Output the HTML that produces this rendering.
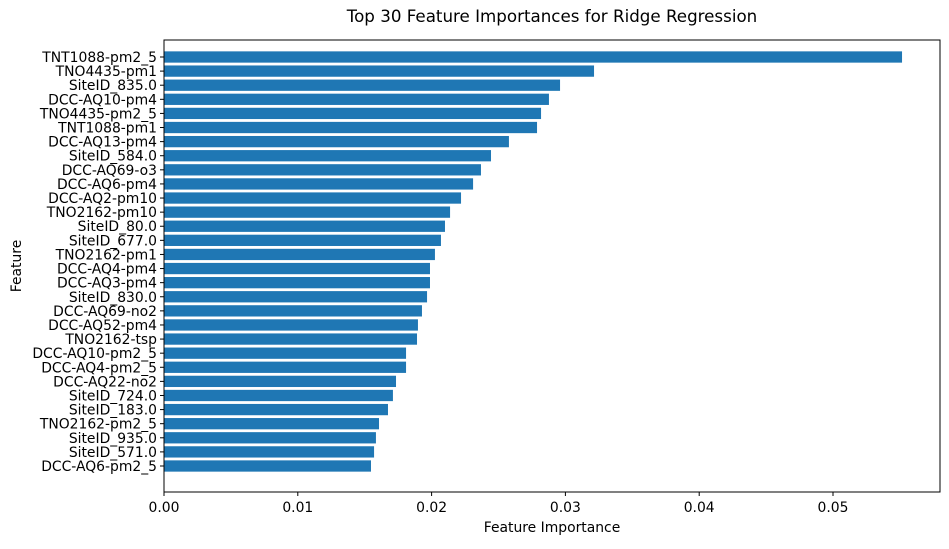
<!DOCTYPE html>
<html><head><meta charset="utf-8"><style>
body{margin:0;background:#fff;font-family:"DejaVu Sans","Liberation Sans",sans-serif;}
svg text{font-family:"DejaVu Sans","Liberation Sans",sans-serif;fill:#000;}
</style></head><body>
<svg id="chart" width="949" height="545" xmlns="http://www.w3.org/2000/svg">
<text x="552" y="22" font-size="16.7" text-anchor="middle">Top 30 Feature Importances for Ridge Regression</text>
<g id="bars"></g><g id="yticks"></g><g id="xticks"></g>
<rect x="164" y="40" width="776" height="452" fill="none" stroke="#000" stroke-width="1"/>
<text x="552" y="532" font-size="13.9" text-anchor="middle">Feature Importance</text>
<text x="21" y="266" font-size="13.9" text-anchor="middle" transform="rotate(-90 21 266)">Feature</text>
</svg>
<script>
const features=["TNT1088-pm2_5","TNO4435-pm1","SiteID_835.0","DCC-AQ10-pm4","TNO4435-pm2_5","TNT1088-pm1","DCC-AQ13-pm4","SiteID_584.0","DCC-AQ69-o3","DCC-AQ6-pm4","DCC-AQ2-pm10","TNO2162-pm10","SiteID_80.0","SiteID_677.0","TNO2162-pm1","DCC-AQ4-pm4","DCC-AQ3-pm4","SiteID_830.0","DCC-AQ69-no2","DCC-AQ52-pm4","TNO2162-tsp","DCC-AQ10-pm2_5","DCC-AQ4-pm2_5","DCC-AQ22-no2","SiteID_724.0","SiteID_183.0","TNO2162-pm2_5","SiteID_935.0","SiteID_571.0","DCC-AQ6-pm2_5"];
const importances=[0.05516,0.03214,0.0296,0.02877,0.02818,0.02788,0.02578,0.02444,0.02369,0.0231,0.0222,0.02138,0.021,0.0207,0.02025,0.01988,0.01988,0.01966,0.01928,0.01898,0.01891,0.01809,0.01809,0.01734,0.01711,0.01674,0.01607,0.01584,0.0157,0.01547];
const xTicks=[0,0.01,0.02,0.03,0.04,0.05];
const xTickLabels=["0.00","0.01","0.02","0.03","0.04","0.05"];
const NS="http://www.w3.org/2000/svg";
const x0=164,pxPerUnit=13380;
const xs=v=>x0+v*pxPerUnit;
const step=(465-56)/29;
const ys=i=>57+i*step;
const bars=document.getElementById('bars'),yt=document.getElementById('yticks'),xt=document.getElementById('xticks');
features.forEach((f,i)=>{
  const r=document.createElementNS(NS,'rect');
  
  
  r.setAttribute('x',x0);r.setAttribute('y',ys(i)-step*0.4);
  r.setAttribute('width',xs(importances[i])-x0);r.setAttribute('height',step*0.8);
  r.setAttribute('fill','#1f77b4');bars.appendChild(r);
  const l=document.createElementNS(NS,'line');
  
  
  l.setAttribute('x1',x0-4);l.setAttribute('x2',x0);l.setAttribute('y1',ys(i));l.setAttribute('y2',ys(i));l.setAttribute('stroke','#000');yt.appendChild(l);
  const t=document.createElementNS(NS,'text');
  
  
  t.setAttribute('x',x0-7);t.setAttribute('y',ys(i)+5);t.setAttribute('font-size','13.9');t.setAttribute('text-anchor','end');t.textContent=f;yt.appendChild(t);
});
xTicks.forEach((v,i)=>{
  const l=document.createElementNS(NS,'line');
  
  
  l.setAttribute('x1',xs(v));l.setAttribute('x2',xs(v));l.setAttribute('y1',492);l.setAttribute('y2',496);l.setAttribute('stroke','#000');xt.appendChild(l);
  const t=document.createElementNS(NS,'text');
  
  
  t.setAttribute('x',xs(v));t.setAttribute('y',512);t.setAttribute('font-size','13.9');t.setAttribute('text-anchor','middle');t.textContent=xTickLabels[i];xt.appendChild(t);
});
</script>
</body></html>
